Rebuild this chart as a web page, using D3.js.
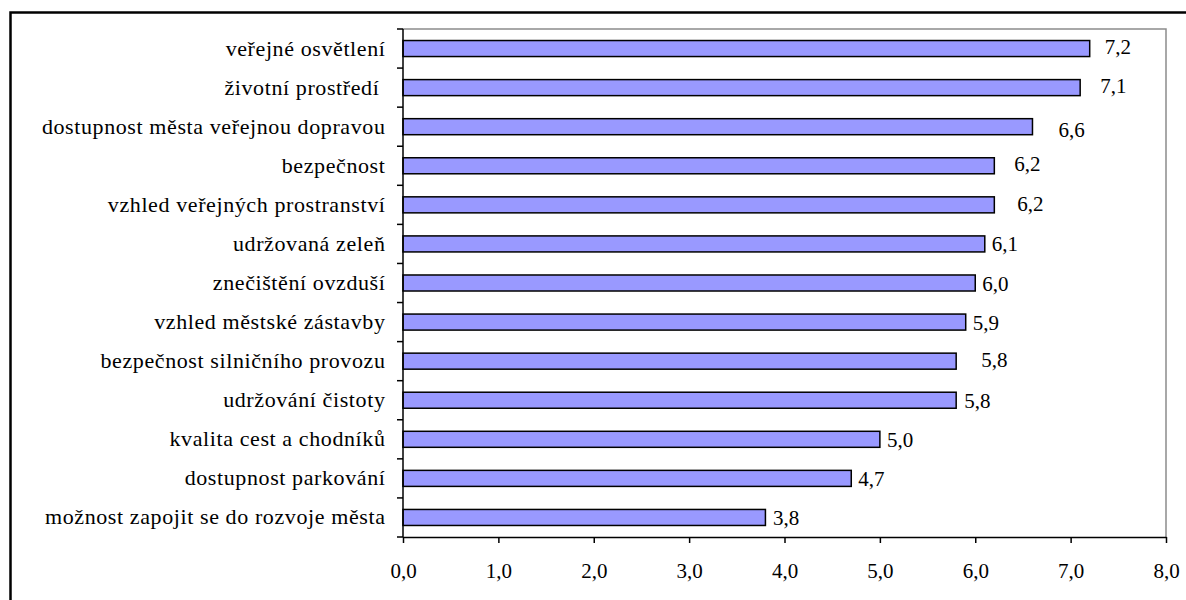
<!DOCTYPE html>
<html>
<head>
<meta charset="utf-8">
<script src="https://cdn.jsdelivr.net/npm/d3@7/dist/d3.min.js"></script>
<style>
  body { margin: 0; background: #fff; }
  text { font-family: "Liberation Serif", "Times New Roman", serif; fill: #000; }
</style>
</head>
<body>
<svg id="chart" width="1186" height="600"></svg>
<script>
// ---- data ----
const categories = [
  "veřejné osvětlení",
  "životní prostředí ",
  "dostupnost města veřejnou dopravou",
  "bezpečnost",
  "vzhled veřejných prostranství",
  "udržovaná zeleň",
  "znečištění ovzduší",
  "vzhled městské zástavby",
  "bezpečnost silničního provozu",
  "udržování čistoty",
  "kvalita cest a chodníků",
  "dostupnost parkování",
  "možnost zapojit se do rozvoje města"
];
const values = [7.2, 7.1, 6.6, 6.2, 6.2, 6.1, 6.0, 5.9, 5.8, 5.8, 5.0, 4.7, 3.8];
const xTicks = [0, 1, 2, 3, 4, 5, 6, 7, 8];

// data-label nudges (layout only, as placed in the original)
const labelDx = [15, 20, 26, 20, 23, 7, 7, 7, 25, 8, 7, 7, 7.5];
const labelDy = [5, 5, 10, 5, 6, 7, 8, 8, 6, 7.5, 8, 8, 8];

// ---- layout ----
const svg = d3.select("#chart");
const pL = 403, pR = 1166, pT = 29, pB = 537;

const locale = d3.formatLocale({ decimal: ",", thousands: " ", grouping: [3], currency: ["", " Kč"] });
const fmt = locale.format(".1f");

const x = d3.scaleLinear().domain([0, 8]).range([pL, pR]);
const y = d3.scaleBand().domain(categories).range([pT, pB])
  .paddingInner(0.59).paddingOuter(0.295);

// outer chart border (runs off the picture on right and bottom)
svg.append("rect")
  .attr("x", 10.5).attr("y", 12.5).attr("width", 1300).attr("height", 700)
  .attr("fill", "none").attr("stroke", "#000").attr("stroke-width", 2.5);

// plot area border (top & right)
svg.append("path")
  .attr("d", `M${pL},${pT}H${pR}V${pB}`)
  .attr("fill", "none").attr("stroke", "#8c8c8c").attr("stroke-width", 1.5);

// bars
svg.append("g").selectAll("rect")
  .data(categories)
  .join("rect")
  .attr("x", x(0))
  .attr("y", d => y(d))
  .attr("width", (d, i) => x(values[i]) - x(0))
  .attr("height", y.bandwidth())
  .attr("fill", "#9999ff")
  .attr("stroke", "#000")
  .attr("stroke-width", 1.5);

// value labels
svg.append("g").selectAll("text")
  .data(categories)
  .join("text")
  .attr("x", (d, i) => x(values[i]) + labelDx[i])
  .attr("y", (d, i) => y(d) + y.bandwidth() / 2 + labelDy[i])
  .attr("font-size", 21)
  .text((d, i) => fmt(values[i]));

// y axis: line + ticks at band boundaries
const yAxis = svg.append("g");
yAxis.append("line")
  .attr("x1", pL).attr("x2", pL).attr("y1", pT).attr("y2", pB)
  .attr("stroke", "#000").attr("stroke-width", 1.5);
yAxis.selectAll("line.tick")
  .data(d3.range(categories.length + 1))
  .join("line")
  .attr("class", "tick")
  .attr("x1", pL - 6).attr("x2", pL)
  .attr("y1", i => pT + i * y.step())
  .attr("y2", i => pT + i * y.step())
  .attr("stroke", "#000").attr("stroke-width", 1.5);

// category labels
svg.append("g").selectAll("text")
  .data(categories)
  .join("text")
  .attr("x", 385.5)
  .attr("y", d => y(d) + y.bandwidth() / 2 + 7)
  .attr("text-anchor", "end")
  .attr("font-size", 22)
  .attr("letter-spacing", 0.6)
  .style("white-space", "pre")
  .text(d => d);

// x axis
const xAxis = svg.append("g")
  .attr("transform", `translate(0,${pB})`)
  .call(d3.axisBottom(x).tickValues(xTicks).tickFormat(fmt)
    .tickSizeInner(6).tickSizeOuter(0).tickPadding(20));
xAxis.select(".domain").attr("stroke", "#000").attr("stroke-width", 1.5);
xAxis.selectAll(".tick line").attr("stroke", "#000").attr("stroke-width", 1.5);
xAxis.selectAll(".tick text")
  .attr("font-family", "Liberation Serif, Times New Roman, serif")
  .attr("font-size", 21)
  .attr("fill", "#000");
</script>
</body>
</html>
